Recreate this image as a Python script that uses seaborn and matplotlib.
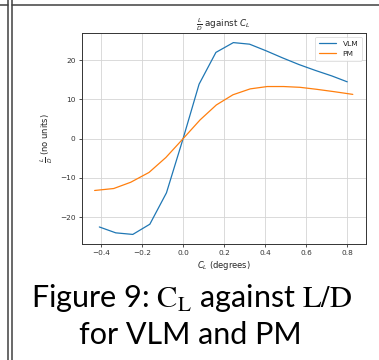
import numpy as np
import pandas as pd
import matplotlib
matplotlib.use("Agg")
import matplotlib.pyplot as plt
import seaborn as sns

# lift coefficient values (x) and L/D (y)
cl_vlm = [-0.408, -0.328, -0.245, -0.162, -0.081, 0.0, 0.078, 0.16, 0.245, 0.324,
          0.405, 0.485, 0.565, 0.645, 0.725, 0.80]
ld_vlm = [-22.5, -24.0, -24.4, -21.8, -13.8, 0.0, 13.9, 22.0, 24.5, 24.1,
          22.4, 20.6, 18.9, 17.4, 16.0, 14.5]

cl_pm = [-0.431, -0.338, -0.255, -0.166, -0.084, 0.0, 0.083, 0.162, 0.243, 0.327,
         0.41, 0.49, 0.57, 0.65, 0.735, 0.827]
ld_pm = [-13.2, -12.7, -11.1, -8.6, -4.8, 0.0, 4.8, 8.6, 11.2, 12.7,
         13.3, 13.3, 13.1, 12.6, 12.0, 11.3]

methods = ["VLM", "PM"]

df = pd.concat([
    pd.DataFrame({"CL": cl_vlm, "LD": ld_vlm, "method": methods[0]}),
    pd.DataFrame({"CL": cl_pm, "LD": ld_pm, "method": methods[1]}),
])

sns.set_style("ticks", {"axes.grid": True, "grid.color": "#d4d4d4",
                        "axes.edgecolor": "#333333"})
plt.rcParams["font.family"] = ["DejaVu Sans"]

fig = plt.figure(figsize=(3.79, 3.6), dpi=100)
ax = fig.add_axes([0.2156, 0.3222, 0.7493, 0.5861])

sns.lineplot(data=df, x="CL", y="LD", hue="method", sort=False,
             palette=["#1f77b4", "#ff7f0e"], linewidth=0.9, ax=ax)

ax.set_xticks(np.arange(-0.4, 0.81, 0.2))
ax.set_yticks([-20, -10, 0, 10, 20])
ax.tick_params(labelsize=5.3, length=2.5, width=0.6, pad=2, colors="#333333")
for s in ax.spines.values():
    s.set_linewidth(0.7)
ax.grid(True, linewidth=0.6)

ax.set_title(r"$\frac{L}{D}$ against $C_L$", fontsize=6.3, pad=-1)
ax.set_ylabel(r"$\frac{L}{D}$ (no units)", fontsize=6)
ax.set_xlabel(r"$C_L$ (degrees)", fontsize=6)
ax.yaxis.set_label_coords(-0.095, 0.5)
ax.xaxis.set_label_coords(0.5, -0.07)

leg = ax.legend(loc="upper right", fontsize=5.4, frameon=True, handlelength=2.3,
                handletextpad=0.8, borderpad=0.5, labelspacing=0.5)
leg.get_frame().set_linewidth(0.5)

# caption beneath the chart
fig.text(0.505, 1 - 306.5 / 360, r"Figure 9: $\mathrm{C_L}$ against $\mathrm{L/D}$",
         ha="center", va="baseline", fontsize=22, family="Lato", color="black",
         math_fontfamily="stix")
fig.text(0.503, 1 - 344 / 360, "for VLM and PM", ha="center", va="baseline",
         fontsize=22, family="Lato", color="black")

# page borders of the screenshot
fig.add_artist(plt.Line2D([8 / 379, 8 / 379], [0, 1], color="#404040", lw=1.1))
fig.add_artist(plt.Line2D([12 / 379, 12 / 379], [0, 1], color="#404040", lw=1.1))
fig.add_artist(plt.Line2D([0, 8 / 379], [1 - 4.5 / 360] * 2, color="#404040", lw=1.1))
fig.add_artist(plt.Line2D([12 / 379, 1], [1 - 4.5 / 360] * 2, color="#404040", lw=1.1))

fig.savefig("out.png", dpi=100)
